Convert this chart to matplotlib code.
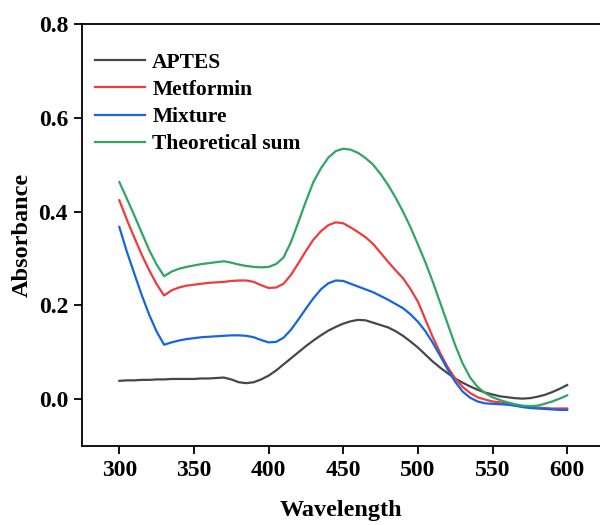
import numpy as np
import matplotlib.pyplot as plt

# wavelength grid (nm), 5 nm steps
wavelength = list(range(300, 601, 5))

aptes = [0.039, 0.040, 0.040, 0.041, 0.041, 0.042, 0.042, 0.043, 0.043, 0.043,
         0.043, 0.044, 0.044, 0.045, 0.046, 0.042, 0.036, 0.034, 0.036, 0.042,
         0.050, 0.061, 0.074, 0.087, 0.100, 0.113, 0.125, 0.136, 0.146, 0.154,
         0.161, 0.166, 0.169, 0.168, 0.163, 0.158, 0.153, 0.145, 0.135, 0.123,
         0.110, 0.095, 0.080, 0.067, 0.055, 0.044, 0.035, 0.027, 0.020, 0.014,
         0.010, 0.006, 0.004, 0.002, 0.001, 0.002, 0.005, 0.009, 0.015, 0.022,
         0.030]
metformin = [0.424, 0.383, 0.345, 0.308, 0.275, 0.245, 0.221, 0.232, 0.238, 0.242,
             0.244, 0.246, 0.248, 0.249, 0.250, 0.252, 0.253, 0.253, 0.250, 0.243,
             0.237, 0.238, 0.246, 0.265, 0.290, 0.316, 0.340, 0.358, 0.371, 0.377,
             0.375, 0.366, 0.356, 0.345, 0.331, 0.312, 0.293, 0.275, 0.258, 0.235,
             0.208, 0.170, 0.132, 0.098, 0.068, 0.044, 0.026, 0.013, 0.004, -0.001,
             -0.005, -0.007, -0.010, -0.013, -0.015, -0.017, -0.018, -0.019, -0.020, -0.020,
             -0.020]
mixture = [0.367, 0.315, 0.268, 0.222, 0.180, 0.144, 0.116, 0.121, 0.125, 0.128,
           0.130, 0.132, 0.133, 0.134, 0.135, 0.136, 0.136, 0.135, 0.132, 0.126,
           0.121, 0.122, 0.131, 0.148, 0.170, 0.193, 0.215, 0.234, 0.247, 0.253,
           0.252, 0.246, 0.240, 0.234, 0.228, 0.220, 0.212, 0.203, 0.194, 0.181,
           0.165, 0.145, 0.120, 0.092, 0.063, 0.037, 0.016, 0.003, -0.005, -0.009,
           -0.010, -0.011, -0.012, -0.014, -0.017, -0.019, -0.020, -0.021, -0.022, -0.023,
           -0.023]
theoretical = [0.463, 0.428, 0.392, 0.355, 0.318, 0.287, 0.262, 0.272, 0.278, 0.282,
               0.285, 0.288, 0.290, 0.292, 0.294, 0.291, 0.287, 0.284, 0.282, 0.281,
               0.282, 0.288, 0.302, 0.335, 0.378, 0.422, 0.463, 0.492, 0.515, 0.529,
               0.534, 0.532, 0.525, 0.514, 0.500, 0.480, 0.457, 0.430, 0.400, 0.367,
               0.330, 0.292, 0.250, 0.205, 0.160, 0.115, 0.076, 0.046, 0.026, 0.013,
               0.004, -0.002, -0.007, -0.011, -0.014, -0.015, -0.014, -0.010, -0.005, 0.001,
               0.008]

labels = ["APTES", "Metformin", "Mixture", "Theoretical sum"]
colors = ["#474747", "#EE3B3B", "#1565E0", "#2FA663"]

plt.rcParams['font.family'] = ['Liberation Serif', 'DejaVu Serif']
plt.rcParams['font.weight'] = 'bold'

fig = plt.figure(figsize=(6, 5.25), dpi=100)
ax = fig.add_axes([82/600, 79/525, 518/600, 422/525])

for ys, lab, c in zip([aptes, metformin, mixture, theoretical], labels, colors):
    ax.plot(wavelength, ys, color=c, lw=1.6, label=lab)

ax.set_xlim(275, 622)
ax.set_ylim(-0.1, 0.8)
ax.set_xticks([300, 350, 400, 450, 500, 550, 600])
ax.set_yticks([0.0, 0.2, 0.4, 0.6, 0.8])
ax.yaxis.set_major_formatter(plt.FormatStrFormatter('%.1f'))
ax.spines['right'].set_visible(False)
for s in ['left', 'bottom', 'top']:
    ax.spines[s].set_linewidth(1.3)
ax.tick_params(direction='out', length=6, width=1.3, labelsize=17, pad=4)
for t in ax.get_xticklabels() + ax.get_yticklabels():
    t.set_fontweight('bold')

ax.set_xlabel("Wavelength", fontsize=17.5, fontweight='bold', labelpad=14)
ax.set_ylabel("Absorbance", fontsize=17.5, fontweight='bold', labelpad=4)

leg = ax.legend(loc='upper left', bbox_to_anchor=(-0.012, 0.978), frameon=False,
                handlelength=2.3, handletextpad=0.35, labelspacing=0.33,
                prop={'weight': 'bold', 'size': 15.5})

fig.savefig("out.png", dpi=100)
